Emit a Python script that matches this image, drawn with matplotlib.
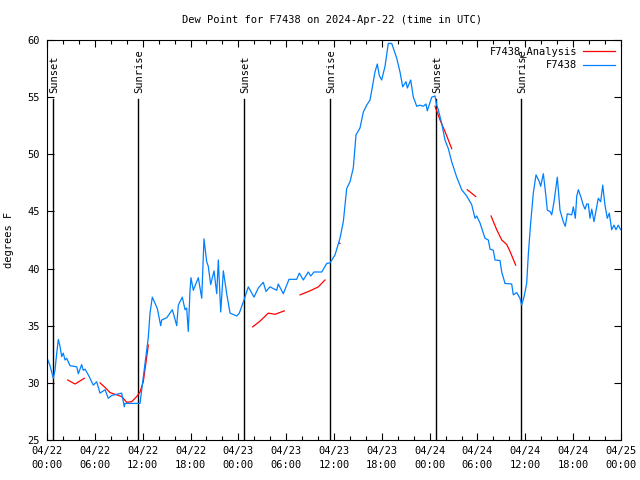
import numpy as np
import matplotlib
matplotlib.use("Agg")
import matplotlib.pyplot as plt
from matplotlib.ticker import MultipleLocator

# hours since 04/22 00:00 UTC, dew point (F)
obs_hours = [0.0, 0.38, 0.79, 1.0, 1.19, 1.42, 1.63, 1.84, 2.04, 2.26, 2.47, 2.89, 3.73, 3.93,
             4.35, 4.55, 4.77, 5.18, 5.81, 6.23, 6.65, 7.28, 7.69, 8.12, 8.74, 9.37, 9.57, 9.70,
             9.78, 11.67, 11.88, 12.3, 12.71, 12.92, 13.21, 13.84, 14.26, 14.39, 15.02, 15.72,
             15.93, 16.27, 16.47, 16.97, 17.31, 17.52, 17.72, 17.94, 18.06, 18.35, 18.98, 19.41,
             19.69, 20.03, 20.23, 20.53, 20.95, 21.29, 21.49, 21.79, 22.12, 22.54, 22.96, 23.8,
             24.12, 24.71, 25.25, 25.97, 26.5, 27.13, 27.47, 27.97, 28.81, 29.01, 29.64, 30.36,
             31.32, 31.65, 32.15, 32.78, 33.08, 33.49, 34.46, 35.09, 35.5, 36.13, 36.75, 37.17,
             37.59, 38.01, 38.42, 38.76, 39.26, 39.68, 40.1, 40.52, 40.93, 41.14, 41.43, 41.68,
             41.98, 42.4, 42.81, 43.24, 43.87, 44.28, 44.62, 45.03, 45.2, 45.62, 45.95, 46.38,
             46.79, 47.2, 47.54, 47.7, 48.26, 48.67, 48.88, 49.08, 49.51, 49.92, 50.34, 50.76,
             51.39, 52.02, 52.64, 53.27, 53.69, 53.9, 54.31, 54.94, 55.36, 55.57, 55.98, 56.2,
             56.82, 57.04, 57.45, 58.29, 58.49, 58.92, 59.33, 59.54, 59.83, 60.17, 60.38, 60.67,
             61.0, 61.34, 61.75, 61.93, 62.26, 62.59, 62.76, 63.1, 63.31, 63.6, 64.01, 64.35,
             64.76, 65.01, 65.27, 65.82, 66.02, 66.27, 66.45, 66.65, 66.95, 67.27, 67.49, 67.7,
             67.9, 68.11, 68.33, 68.61, 68.95, 69.15, 69.45, 69.71, 69.99, 70.28, 70.53, 70.83,
             71.12, 71.37, 71.66, 71.96]
obs_dewpt = [32.18, 31.5, 30.4, 31.1, 32.4, 33.8, 33.2, 32.3, 32.6, 32.0, 32.15, 31.5, 31.4, 30.8,
             31.6, 31.1, 31.2, 30.7, 29.8, 30.1, 29.1, 29.4, 28.65, 28.9, 29.0, 29.1, 28.35, 27.9,
             28.2, 28.2, 29.4, 31.7, 34.0, 36.1, 37.5, 36.5, 35.0, 35.5, 35.7, 36.4,
             35.9, 35.0, 36.8, 37.5, 36.4, 36.55, 34.5, 38.1, 39.2, 38.1, 39.2, 37.4,
             42.6, 40.6, 40.2, 38.6, 39.8, 37.8, 40.75, 36.2, 39.8, 37.8, 36.1, 35.85,
             36.1, 37.25, 38.4, 37.5, 38.3, 38.8, 38.0, 38.4, 38.1, 38.65, 37.8, 39.06,
             39.06, 39.6, 39.0, 39.7, 39.35, 39.7, 39.7, 40.45, 40.5, 41.2, 42.65, 44.1,
             47.0, 47.6, 48.8, 51.7, 52.3, 53.7, 54.3, 54.75, 56.35, 57.2, 57.9, 56.9,
             56.5, 57.7, 59.7, 59.7, 58.4, 57.2, 55.9, 56.35, 55.8, 56.5, 55.0, 54.2,
             54.3, 54.2, 54.4, 53.8, 55.0, 55.1, 54.3, 53.9, 52.7, 51.25, 50.5, 49.35,
             48.0, 46.9, 46.35, 45.6, 44.4, 44.6, 44.0, 42.65, 42.5, 41.7, 41.6, 40.75,
             40.7, 39.7, 38.7, 38.65, 37.7, 37.9, 37.4, 36.8, 37.5, 38.7, 41.3, 44.0,
             46.6, 48.2, 47.6, 47.2, 48.3, 46.3, 45.1, 45.0, 44.7, 45.85, 48.0, 45.1,
             44.1, 43.7, 44.8, 44.7, 45.4, 44.4, 46.35, 46.9, 46.3, 45.55, 45.2, 45.65,
             45.65, 44.4, 45.2, 44.1, 45.4, 46.15, 45.85, 47.3, 45.55, 44.4, 44.85, 43.4,
             43.8, 43.4, 43.8, 43.4]

# analysis series, separate pieces
ana_hours = [
    [2.6, 3.51, 4.68],
    [6.65, 7.28, 7.9, 8.74, 9.37, 10.0, 10.62, 11.25, 11.67, 12.08, 12.71],
    [25.8, 26.72, 27.76, 28.6, 29.77],
    [31.74, 32.99, 34.03, 34.87],
    [36.6, 36.75],
    [48.67, 49.3, 49.92, 50.76],
    [52.72, 53.78],
    [55.7, 56.41, 57.04, 57.67, 58.08, 58.79],
]
ana_dewpt = [
    [30.25, 29.9, 30.4],
    [30.0, 29.6, 29.15, 28.95, 28.8, 28.3, 28.35, 28.8, 29.2, 30.1, 33.3],
    [34.9, 35.4, 36.1, 36.0, 36.3],
    [37.7, 38.05, 38.4, 39.0],
    [42.25, 42.2],
    [54.2, 53.0, 52.0, 50.5],
    [46.9, 46.3],
    [44.6, 43.4, 42.5, 42.1, 41.5, 40.3],
]

sun_hours = [0.75, 11.42, 24.72, 35.5, 48.8, 59.5]
sun_labels = ['Sunset', 'Sunrise', 'Sunset', 'Sunrise', 'Sunset', 'Sunrise']

tick_hours = list(range(0, 73, 6))
tick_labels = ['04/22\n00:00', '04/22\n06:00', '04/22\n12:00', '04/22\n18:00',
               '04/23\n00:00', '04/23\n06:00', '04/23\n12:00', '04/23\n18:00',
               '04/24\n00:00', '04/24\n06:00', '04/24\n12:00', '04/24\n18:00',
               '04/25\n00:00']

plt.rcParams['font.family'] = ['DejaVu Sans Mono']
plt.rcParams['font.size'] = 7.5

fig = plt.figure(figsize=(6.4, 4.8), dpi=100)
ax = fig.add_axes([47 / 640, 40 / 480, 574 / 640, 400 / 480])

# sunrise / sunset markers
for h, lab in zip(sun_hours, sun_labels):
    ax.plot([h, h], [25, 54.8], color='black', lw=1.0)
    ax.text(h + 0.15, 55.4, lab, rotation=90, ha='center', va='bottom')

for i in range(len(ana_hours)):
    ax.plot(ana_hours[i], ana_dewpt[i], color='#ff0000', lw=0.9,
            label='F7438_Analysis' if i == 0 else None)
ax.plot(obs_hours, obs_dewpt, color='#0080ff', lw=0.9, label='F7438')

ax.set_xlim(0, 72)
ax.set_ylim(25, 60)
ax.set_xticks(tick_hours)
ax.set_xticklabels(tick_labels, linespacing=1.6)
ax.xaxis.set_minor_locator(MultipleLocator(2))
ax.set_yticks(range(25, 61, 5))
ax.tick_params(which='both', direction='in', top=True, right=True, color='black')
ax.tick_params(which='major', length=5, width=0.8)
ax.tick_params(which='minor', length=3, width=0.8)
ax.tick_params(axis='x', pad=4)
ax.tick_params(axis='y', pad=5)
for s in ax.spines.values():
    s.set_linewidth(0.8)

ax.set_ylabel('degrees F', labelpad=10)
fig.text(332 / 640, 1 - 20 / 480, 'Dew Point for F7438 on 2024-Apr-22 (time in UTC)',
         ha='center', va='center')

ax.legend(loc='upper right', frameon=False, markerfirst=False, handlelength=3.0,
          borderaxespad=0.2, labelspacing=0.3, handletextpad=0.6)

fig.savefig('out.png', dpi=100)
